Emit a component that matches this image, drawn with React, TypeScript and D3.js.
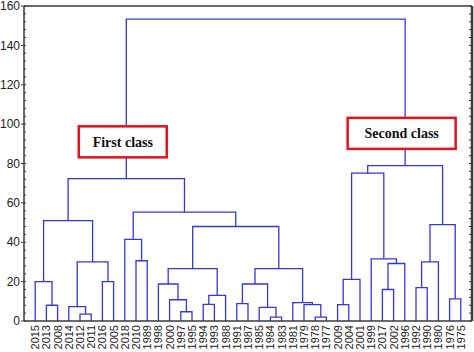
import React, { useEffect, useRef } from 'react';
import * as d3 from 'd3';

// leaf order as it appears on the x axis
const leaves = [
  '2015', '2013', '2008', '2014', '2012', '2011', '2016', '2005',
  '2018', '2010', '1989', '1998', '2000', '1997', '1995', '1994',
  '1993', '1988', '1991', '1987', '1985', '1984', '1983', '1981',
  '1979', '1978', '1977', '2009', '2004', '2001', '1999', '2017',
  '2002', '1996', '1992', '1990', '1980', '1976', '1975',
];

// merges: [left, right, linkage distance]; "m<i>" refers to merge i
const mergeLeft = [
  '2013', '2015', '2012', '2014', '2016', 'm3', 'm1', '2010', '2018', '1997',
  '2000', '1998', '1994', 'm12', 'm11', '1991', '1984', '1985', 'm15', '1978',
  '1979', '1981', 'm18', 'm14', 'm8', 'm6', '2009', 'm26', '2017', 'm28',
  '1999', 'm27', '1992', 'm32', '1976', 'm33', 'm31', 'm25',
];
const mergeRight = [
  '2008', 'm0', '2011', 'm2', '2005', 'm4', 'm5', '1989', 'm7', '1995',
  'm9', 'm10', '1993', '1988', 'm13', '1987', '1983', 'm16', 'm17', '1977',
  'm19', 'm20', 'm21', 'm22', 'm23', 'm24', '2004', '2001', '2002', '1996',
  'm29', 'm30', '1990', '1980', '1975', 'm34', 'm35', 'm36',
];
const mergeHeight = [
  8, 20, 3.5, 7.3, 20, 30, 51, 30.6, 41.5, 4.7,
  10.8, 18.8, 8.4, 13, 26.6, 8.8, 2, 6.9, 18.8, 2,
  8.3, 9.3, 26.6, 48, 55.3, 72.3, 8.3, 21.1, 16, 29.2,
  31.6, 75.1, 17, 30, 11.2, 49, 78.9, 153.3,
];

const yTicks = [0, 20, 40, 60, 80, 100, 120, 140, 160];

const classLabels = ['First class', 'Second class'];
const classNodes = ['m25', 'm36'];
const classValues = [91, 95.3];

interface TreeNode {
  name: string;
  height: number;
  children?: TreeNode[];
}

const W = 474;
const H = 352;
const margin = { top: 6, right: 2, bottom: 31, left: 24 };
const LINE = '#3636dc';
const RED = '#e3121c';

function buildTree(): TreeNode {
  const nodes: Record<string, TreeNode> = {};
  leaves.forEach(l => (nodes[l] = { name: l, height: 0 }));
  mergeHeight.forEach((h, i) => {
    nodes['m' + i] = {
      name: 'm' + i,
      height: h,
      children: [nodes[mergeLeft[i]], nodes[mergeRight[i]]],
    };
  });
  return nodes['m' + (mergeHeight.length - 1)];
}

export default function App() {
  const svgRef = useRef<SVGSVGElement>(null);

  useEffect(() => {
    if (!svgRef.current) return;
    const svg = d3.select(svgRef.current);
    svg.selectAll('*').remove();

    const x0 = margin.left;
    const x1 = W - margin.right;
    const y0 = H - margin.bottom;
    const y1 = margin.top;

    const x = d3.scalePoint<string>().domain(leaves).range([x0, x1]).padding(1);
    const y = d3.scaleLinear().domain([0, 160]).range([y0, y1]);

    const root = d3.hierarchy<TreeNode>(buildTree());
    const pos = new Map<string, number>();
    root.eachAfter(n => {
      if (!n.children) pos.set(n.data.name, x(n.data.name) ?? 0);
      else pos.set(n.data.name, d3.mean(n.children, c => pos.get(c.data.name)!)!);
    });

    const g = svg.append('g');

    // links
    const links = root.descendants().filter(n => n.children);
    g.selectAll('path.link')
      .data(links)
      .enter().append('path')
      .attr('class', 'link')
      .attr('fill', 'none')
      .attr('stroke', LINE)
      .attr('stroke-width', 1.3)
      .attr('d', n => {
        const [a, b] = n.children!;
        const ya = y(a.data.height);
        const yb = y(b.data.height);
        const yn = y(n.data.height);
        return `M${pos.get(a.data.name)},${ya}V${yn}H${pos.get(b.data.name)}V${yb}`;
      });

    // root stem down to nothing: the root's horizontal is included above

    // frame
    const frame = svg.append('g').attr('stroke', '#3a3a3a').attr('fill', 'none');
    frame.append('line').attr('x1', x0).attr('x2', x1).attr('y1', y1).attr('y2', y1).attr('stroke-width', 1.5);
    frame.append('line').attr('x1', x0).attr('x2', x1).attr('y1', y0).attr('y2', y0).attr('stroke-width', 1.5);
    frame.append('line').attr('x1', x0).attr('x2', x0).attr('y1', y0).attr('y2', y1).attr('stroke-width', 1.5);
    frame.append('line').attr('x1', x1).attr('x2', x1).attr('y1', y0).attr('y2', y1).attr('stroke-width', 2.5);

    // minor ticks every 4 units
    const minor = d3.range(0, 161, 4);
    frame.selectAll('line.minl')
      .data(minor)
      .enter().append('line')
      .attr('x1', x0).attr('x2', x0 + 2)
      .attr('y1', d => y(d)).attr('y2', d => y(d))
      .attr('stroke-width', 1);
    frame.selectAll('line.minr')
      .data(minor)
      .enter().append('line')
      .attr('x1', x1).attr('x2', x1 - 3)
      .attr('y1', d => y(d)).attr('y2', d => y(d))
      .attr('stroke-width', 1);

    // y axis major ticks + labels
    const yAxis = svg.append('g');
    yAxis.selectAll('line')
      .data(yTicks)
      .enter().append('line')
      .attr('x1', x0 - 3).attr('x2', x0)
      .attr('y1', d => y(d)).attr('y2', d => y(d))
      .attr('stroke', '#3a3a3a');
    yAxis.selectAll('text')
      .data(yTicks)
      .enter().append('text')
      .attr('x', x0 - 4)
      .attr('y', d => y(d))
      .attr('dy', '0.35em')
      .attr('text-anchor', 'end')
      .style('font-family', 'Liberation Sans, Arial, sans-serif')
      .style('font-size', '12px')
      .style('fill', '#222')
      .text(d => d);

    // leaf labels
    svg.append('g').selectAll('text')
      .data(leaves)
      .enter().append('text')
      .attr('transform', d => `translate(${x(d)! + 4},${y0 + 4}) rotate(-90)`)
      .attr('text-anchor', 'end')
      .style('font-family', 'Liberation Sans, Arial, sans-serif')
      .style('font-size', '11px')
      .style('fill', '#222')
      .text(d => d);

    // class boxes
    const boxes = svg.append('g').selectAll('g')
      .data(classLabels)
      .enter().append('g')
      .attr('transform', (_, i) => `translate(${pos.get(classNodes[i])! - 3.5},${y(classValues[i])})`);
    boxes.append('rect')
      .attr('x', (_, i) => (i === 0 ? -44 : -54))
      .attr('y', -15.5)
      .attr('width', (_, i) => (i === 0 ? 88 : 108))
      .attr('height', 31)
      .attr('fill', '#fff')
      .attr('stroke', RED)
      .attr('stroke-width', 2.5);
    boxes.append('text')
      .attr('text-anchor', 'middle')
      .attr('dy', '0.35em')
      .style('font-family', 'Liberation Serif, Times New Roman, serif')
      .style('font-weight', 'bold')
      .style('font-size', '14px')
      .style('fill', '#111')
      .text(d => d);
  }, []);

  return (
    <svg
      ref={svgRef}
      width={W}
      height={H}
      viewBox={`0 0 ${W} ${H}`}
      style={{ position: 'absolute', left: 0, top: 0, background: '#fff' }}
    />
  );
}
